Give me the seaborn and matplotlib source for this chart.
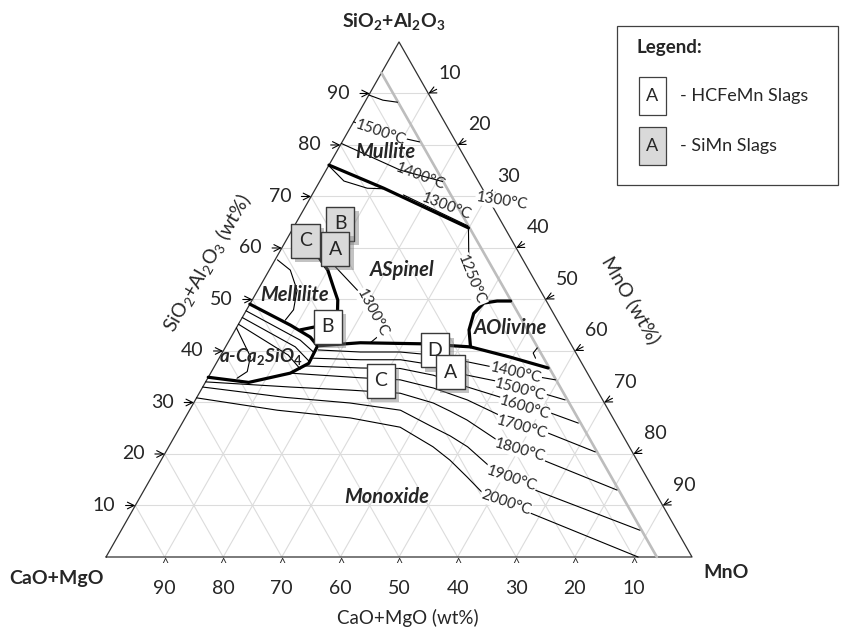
import numpy as np
import matplotlib
matplotlib.use('Agg')
import matplotlib.pyplot as plt
import seaborn as sns
from matplotlib import patheffects as pe
from matplotlib.patches import Rectangle

# every curve is a list of (SiO2+Al2O3 wt%, MnO wt%)
gray_line = [(94, 0), (0, 94)]
arc_top = [(89.7, 0), (88.7, 2.9), (88.3, 5.6)]
iso1500_top = [(84.5, 0), (82.3, 5.7), (80.6, 13.2)]
iso1400_top = [(80.3, 0), (75.1, 12.7), (72.9, 21.0)]
mullite_bnd = [(76.1, 0), (71.6, 11.6), (63.9, 29.9)]
mullite_arc = [(76.0, 0), (73.0, 4.1), (71.6, 8.8), (71.5, 11.5)]
iso1300_top = [(70.3, 15.6), (64.3, 29.6)]
iso1250 = [(63.9, 29.9), (59.0, 32.4), (53.8, 35.5)]
spinel_bnd = [(58.3, 7.1), (55.7, 10.0), (52.4, 12.6), (49.9, 14.6), (47.6, 15.7), (44.7, 16.3)]
liquidus = [(41.0, 15.6), (41.6, 22.6), (41.4, 33.0), (40.8, 41.8), (38.8, 49.6), (36.7, 57.1)]
olivine_bnd = [(40.8, 41.8), (44.1, 39.9), (47.3, 39.1), (49.3, 39.8), (49.7, 41.9), (49.7, 44.2)]
olivine_arc = [(40.6, 53.3), (39.6, 53.1), (38.6, 54.0)]
mellilite_bnd = [(49.1, 0), (45.0, 9.0), (42.7, 13.5), (41.0, 15.6)]
mellilite_spur = [(44.1, 11.1), (44.7, 13.4)]
ca2sio4_bnd = [(41.0, 15.6), (37.6, 15.8), (35.7, 13.6), (33.9, 7.4), (34.9, 0)]
mellilite_arc = [(57.7, 0.4), (55.7, 3.6), (51.8, 6.7), (48.0, 8.0), (46.0, 7.6)]
ca2sio4_arc = [(44.5, 0), (38.9, 5.2), (36.0, 6.1), (34.7, 5.0)]
ca2sio4_lines = [
    [(47.8, 0), (42.1, 12.1), (39.8, 15.5)],
    [(46.5, 0), (40.8, 11.9), (37.9, 15.8)],
    [(45.2, 0), (39.2, 11.5), (36.5, 14.9)],
]
iso1300_mid = [(57.3, 9.7), (51.8, 17.0), (47.4, 21.8), (43.5, 25.4), (41.6, 24.3)]

isotherms = {
    1400: [(40.2, 16.1), (39.8, 23.5), (39.8, 30.3), (39.2, 36.3), (37.9, 42.7), (36.9, 47.5), (35.0, 56.1), (34.4, 59.5)],
    1500: [(38.6, 16.1), (38.3, 24.3), (38.3, 31.1), (37.3, 37.2), (35.3, 44.0), (34.0, 50.3), (31.5, 59.6), (30.5, 63.1)],
    1600: [(37.1, 15.5), (36.7, 25.1), (36.6, 31.9), (35.3, 38.2), (33.0, 45.2), (30.9, 52.2), (28.2, 61.2), (26.0, 67.6)],
    1700: [(35.7, 13.6), (34.8, 26.0), (34.4, 33.0), (32.8, 39.5), (30.5, 46.4), (27.6, 53.2), (24.1, 63.3), (20.4, 73.3)],
    1800: [(34.0, 0), (33.0, 15.0), (32.4, 25.5), (31.8, 34.3), (29.9, 40.9), (28.3, 44.6), (26.6, 48.3),
           (22.7, 55.4), (18.8, 65.2), (13.0, 80.7)],
    1900: [(33.0, 0), (31.0, 15.0), (29.9, 26.7), (28.5, 36.0), (25.2, 43.2), (23.5, 47.0), (21.4, 51.0),
           (17.5, 56.8), (13.0, 66.7), (5.2, 88.5)],
    2000: [(30.9, 0), (28.5, 15.0), (27.0, 28.2), (25.2, 37.6), (21.4, 45.1), (18.8, 49.3), (15.5, 53.9),
           (12.4, 58.1), (8.7, 67.7), (0, 90.8)],
}
iso_label_pos = {1400: (35.8, 52.0), 1500: (32.4, 54.5), 1600: (29.0, 57.0), 1700: (25.2, 58.4),
                 1800: (20.8, 60.3), 1900: (15.3, 61.5), 2000: (10.5, 63.0)}
iso_label_rot = {1400: -13, 1500: -15, 1600: -17, 1700: -16, 1800: -16, 1900: -19, 2000: -19}

# other temperature labels: text, (SiO2, MnO), rotation, white background
temp_labels = [
    ('1500°C', (82.3, 5.7), -19, True),
    ('1400°C', (73.8, 16.8), -21, False),
    ('1300°C', (68.0, 24.1), -21, False),
    ('1300°C', (69.1, 33.0), -9, True),
    ('1250°C', (53.8, 35.5), -68, True),
    ('1300°C', (47.4, 21.8), -62, True),
]

phase_names = [
    ('Mullite', (78.6, 8.3), 14.5),
    ('ASpinel', (55.7, 22.7), 14.5),
    ('Mellilite', (50.9, 6.8), 14.5),
    (r'a-Ca$_\mathbf{2}$SiO$_\mathbf{4}$', (39.0, 7.0), 13.5),
    ('AOlivine', (44.5, 46.8), 14.5),
    ('Monoxide', (11.7, 42.0), 14.5),
]

# slag samples
simn_names = ['C', 'B', 'A']
simn_comp = [(61.4, 3.3), (64.7, 7.6), (59.8, 9.2)]
hcfemn_names = ['B', 'C', 'D', 'A']
hcfemn_comp = [(44.7, 15.5), (34.2, 29.8), (40.1, 36.1), (35.9, 40.8)]

ticks = [10, 20, 30, 40, 50, 60, 70, 80, 90]


def tern(pts):
    a = np.asarray(pts, dtype=float) / 100
    s, m = a[:, 0], a[:, 1]
    return m + s / 2, s * np.sqrt(3) / 2


sns.set_theme(style='white')
plt.rcParams['font.family'] = ['Lato', 'DejaVu Sans']
plt.rcParams['mathtext.fontset'] = 'custom'
plt.rcParams['mathtext.rm'] = 'Lato'
plt.rcParams['mathtext.it'] = 'Lato:italic'
plt.rcParams['mathtext.bf'] = 'Lato:bold'
plt.rcParams['mathtext.default'] = 'regular'

fig = plt.figure(figsize=(8.5, 6.38), dpi=100)
ax = fig.add_axes([0, 0, 1, 1])
ax.set_xlim(-0.1809, 1.2696)
ax.set_ylim(-0.1362, 0.9366)
ax.axis('off')


def line(pts, lw=0.8, color='black', z=3):
    x, y = tern(pts)
    sns.lineplot(x=x, y=y, sort=False, estimator=None, color=color, lw=lw, ax=ax, zorder=z,
                 solid_capstyle='round', solid_joinstyle='round')


# grid
for v in ticks:
    for seg in ([(v, 0), (v, 100 - v)], [(0, v), (100 - v, v)], [(100 - v, 0), (0, 100 - v)]):
        x, y = tern(seg)
        ax.plot(x, y, color='#dcdcdc', lw=0.8, zorder=1)

# frame
x, y = tern([(0, 0), (0, 100), (100, 0), (0, 0)])
ax.plot(x, y, color='#303030', lw=0.9, zorder=2)

line(gray_line, lw=1.9, color='#bdbdbd', z=2)

for c in (arc_top, iso1500_top, iso1400_top, mullite_arc, iso1300_top, iso1250, olivine_arc,
          mellilite_arc, ca2sio4_arc, iso1300_mid, *ca2sio4_lines):
    line(c)
for c in isotherms.values():
    line(c)
for c in (mullite_bnd, spinel_bnd, liquidus, olivine_bnd, mellilite_bnd, mellilite_spur, ca2sio4_bnd):
    line(c, lw=2.3)

# temperature labels
for t, p in iso_label_pos.items():
    x, y = tern([p])
    ax.text(x[0], y[0], f'{t}°C', fontsize=11, rotation=iso_label_rot[t], ha='center', va='center',
            rotation_mode='anchor', zorder=5,
            bbox=dict(boxstyle='square,pad=0.05', fc='white', ec='none'))
for txt, p, rot, bg in temp_labels:
    x, y = tern([p])
    kw = dict(bbox=dict(boxstyle='square,pad=0.05', fc='white', ec='none')) if bg else {}
    ax.text(x[0], y[0], txt, fontsize=11, rotation=rot, ha='center', va='center',
            rotation_mode='anchor', zorder=5, **kw)

for txt, p, fs in phase_names:
    x, y = tern([p])
    ax.text(x[0], y[0], txt, fontsize=fs, fontweight='bold', fontstyle='italic',
            ha='center', va='center', zorder=6)

# ticks and tick labels
for v in ticks:
    x, y = tern([(v, 0)])
    ax.annotate(str(v), (x[0], y[0]), xytext=(-22.5, 0), textcoords='offset points',
                ha='center', va='center', fontsize=14)
    ax.annotate('', (x[0], y[0]), xytext=(-7, 0), textcoords='offset points',
                arrowprops=dict(arrowstyle='->', lw=0.8, color='black', shrinkA=0, shrinkB=0))
    x, y = tern([(0, 100 - v)])
    ax.annotate(str(v), (x[0], y[0]), xytext=(0, -22.5), textcoords='offset points',
                ha='center', va='center', fontsize=14)
    ax.annotate('^', (x[0], y[0]), xytext=(0, -5), textcoords='offset points',
                ha='center', va='center', fontsize=9)
    x, y = tern([(100 - v, v)])
    ax.annotate(str(v), (x[0], y[0]), xytext=(15.5, 14.5), textcoords='offset points',
                ha='center', va='center', fontsize=14)
    ax.annotate('', (x[0], y[0]), xytext=(6, 3), textcoords='offset points',
                arrowprops=dict(arrowstyle='->', lw=0.8, color='black', shrinkA=0, shrinkB=0))

# axis titles
fig.text(0.4635, 0.967, r'SiO$_\mathbf{2}$+Al$_\mathbf{2}$O$_\mathbf{3}$', fontsize=14, fontweight='bold',
         ha='center', va='center')
fig.text(0.066, 0.094, 'CaO+MgO', fontsize=14, fontweight='bold', ha='center', va='center')
fig.text(0.854, 0.103, 'MnO', fontsize=14, fontweight='bold', ha='center', va='center')
fig.text(0.48, 0.031, 'CaO+MgO (wt%)', fontsize=13.5, ha='center', va='center')
fig.text(0.243, 0.588, r'SiO$_2$+Al$_2$O$_3$ (wt%)', fontsize=14, rotation=60, ha='center', va='center')
fig.text(0.743, 0.530, 'MnO (wt%)', fontsize=14, rotation=-60, ha='center', va='center')

# sample boxes
box_w, box_h = 0.84, 1.0
box_marker = [(-box_w, -box_h), (box_w, -box_h), (box_w, box_h), (-box_w, box_h), (-box_w, -box_h)]
shadow = [pe.SimplePatchShadow(offset=(3, -3), shadow_rgbFace='#7a7a7a', alpha=0.45), pe.Normal()]
for names, comp, fc in ((simn_names, simn_comp, '#d9d9d9'), (hcfemn_names, hcfemn_comp, 'white')):
    for n, p in zip(names, comp):
        x, y = tern([p])
        sc = ax.scatter(x, y, marker=box_marker, s=600, facecolor=fc, edgecolor='#3a3a3a',
                        linewidth=1.0, zorder=7)
        sc.set_path_effects(shadow)
        ax.text(x[0], y[0], n, fontsize=14, ha='center', va='center', zorder=8)

# legend
fig.add_artist(Rectangle((617 / 850, 1 - 185 / 638), 221 / 850, 159 / 638, transform=fig.transFigure,
                         fill=False, ec='#404040', lw=0.9))
fig.text(636 / 850, 1 - 47 / 638, 'Legend:', fontsize=13.5, fontweight='bold', ha='left', va='center')
for yy, fc, lab in ((96, 'white', '- HCFeMn Slags'), (146, '#d9d9d9', '- SiMn Slags')):
    fig.add_artist(Rectangle((639 / 850, 1 - (yy + 19) / 638), 27 / 850, 38 / 638, transform=fig.transFigure,
                             fc=fc, ec='#404040', lw=0.9))
    fig.text(652.5 / 850, 1 - yy / 638, 'A', fontsize=13, ha='center', va='center')
    fig.text(680 / 850, 1 - yy / 638, lab, fontsize=13, ha='left', va='center')

fig.savefig('out.png', dpi=100)
